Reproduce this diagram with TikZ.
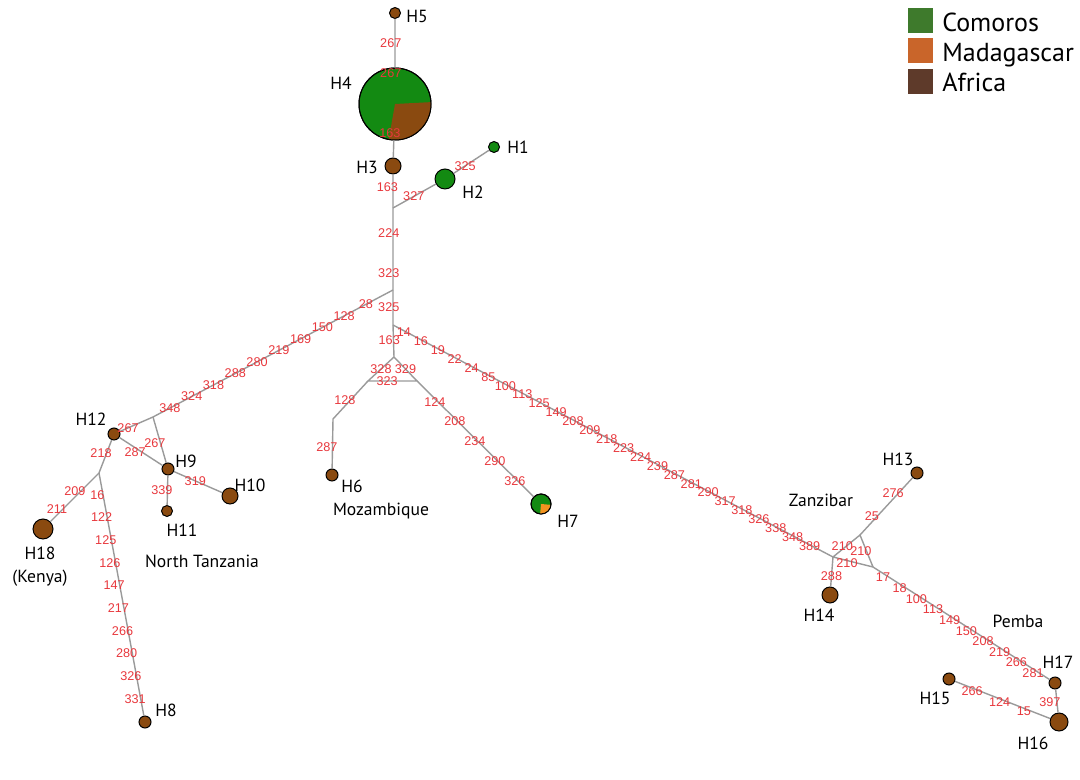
\documentclass[tikz,border=0pt]{standalone}
\usepackage{fontspec}
\setmainfont{PT Sans}
\newfontfamily\mutfont{Liberation Sans}
\usetikzlibrary{positioning}
\definecolor{comoros}{HTML}{3E7A2C}
\definecolor{madagascar}{HTML}{C9652A}
\definecolor{africa}{HTML}{5E3A2A}
\definecolor{hapgreen}{HTML}{138A12}
\definecolor{hapbrown}{HTML}{8A4A10}
\definecolor{haporange}{HTML}{F39320}
\definecolor{mutred}{HTML}{E8383D}
\definecolor{edgegray}{HTML}{9A9A9A}
\tikzset{
  edge/.style={draw=edgegray, line width=1pt},
  hap/.style={circle, draw=black, line width=0.7pt, fill=hapbrown, inner sep=0pt, minimum size=#1*0.025cm},
  mut/.style={text=mutred, font=\mutfont\fontsize{9}{10}\selectfont, inner sep=0pt},
  hlab/.style={font=\fontsize{12.5}{16.5}\selectfont, inner sep=0pt},
  legbox/.style={minimum size=25*0.025cm, inner sep=0pt},
  legtext/.style={font=\fontsize{18.5}{20}\selectfont, anchor=base west, inner sep=0pt},
}
\begin{document}
\begin{tikzpicture}[x=0.025cm, y=-0.025cm]
\useasboundingbox (0,0) rectangle (1080,780);
% haplotypes
\node[hap=11] (H5) at (395,13) {};
\node[hap=72, fill=hapgreen] (H4) at (395,104) {};
\node[hap=16] (H3) at (393,166) {};
\node[hap=11, fill=hapgreen] (H1) at (494,147) {};
\node[hap=20, fill=hapgreen] (H2) at (445,179) {};
\node[hap=12] (H6) at (332,475) {};
\node[hap=20, fill=hapgreen] (H7) at (541,504) {};
\node[hap=12] (H12) at (114,434) {};
\node[hap=12] (H9) at (168,469) {};
\node[hap=16] (H10) at (230,496) {};
\node[hap=11] (H11) at (167,511) {};
\node[hap=20] (H18) at (43,529) {};
\node[hap=12] (H8) at (145,722) {};
\node[hap=12] (H13) at (917,473) {};
\node[hap=16] (H14) at (830,595) {};
\node[hap=12] (H15) at (949,679) {};
\node[hap=18] (H16) at (1059,722) {};
\node[hap=12] (H17) at (1055,683) {};
\fill[hapbrown] (H4.center) -- ++(3:0.9cm) arc[start angle=3, end angle=-100, radius=0.9cm] -- cycle;
\draw[line width=0.7pt] (H4.center) circle[radius=0.9cm];
\fill[haporange] (H7.center) -- ++(-5:0.25cm) arc[start angle=-5, end angle=-95, radius=0.25cm] -- cycle;
\draw[line width=0.7pt] (H7.center) circle[radius=0.25cm];
% median vectors
\coordinate (J1) at (393,208);
\coordinate (J2) at (393,290);
\coordinate (J3) at (393,325);
\coordinate (T1) at (394,357);
\coordinate (TL) at (368,381);
\coordinate (TR) at (417,381);
\coordinate (B6) at (333,419);
\coordinate (JL) at (153,417);
\coordinate (JK) at (99,473);
\coordinate (JZ) at (833,557);
\coordinate (ZT) at (860,535);
\coordinate (ZR) at (873,567);
% links
\draw[edge] (H5) -- (H4) -- (H3) -- (J1) -- (J2) -- (J3) -- (T1) -- (TL) -- (TR) -- (T1);
\draw[edge] (J1) -- (H2) -- (H1);
\draw[edge] (TL) -- (B6) -- (H6);
\draw[edge] (TR) -- (H7);
\draw[edge] (J2) -- (JL) -- (H12) -- (JK) -- (H18);
\draw[edge] (JL) -- (H9) -- (H10);
\draw[edge] (H12) -- (H9) -- (H11);
\draw[edge] (JK) -- (H8);
\draw[edge] (J3) -- (JZ) -- (ZT) -- (ZR) -- (JZ) -- (H14);
\draw[edge] (ZT) -- (H13);
\draw[edge] (ZR) -- (H17) -- (H16) -- (H15);
% mutations
\path (H5.center) -- (H4.center) node[mut, pos=.33, xshift=-3pt] {267} node[mut, pos=.66, xshift=-3pt] {267};
\path (H4.center) -- (H3.center) node[mut, pos=.47, xshift=-3pt] {163};
\path (H3.center) -- (J1) node[mut, pos=.5, xshift=-4pt] {163};
\path (J1) -- (H2.center) node[mut, pos=.4] {327};
\path (H2.center) -- (H1.center) node[mut, pos=.41] {325};
\path (J1) -- (J2) node[mut, pos=.3, xshift=-3pt] {224} node[mut, pos=.79, xshift=-3pt] {323};
\path (J2) -- (J3) node[mut, pos=.49, xshift=-3pt] {325};
\path (J3) -- (T1) node[mut, pos=.47, xshift=-3pt] {163};
\path (T1) -- (TL) node[mut, pos=.5] {328};
\path (T1) -- (TR) node[mut, pos=.5] {329};
\path (TL) -- (TR) node[mut, pos=.39] {323};
\path (TL) -- (B6) node[mut, pos=.5, xshift=-4pt] {128};
\path (B6) -- (H6.center) node[mut, pos=.5, xshift=-4pt] {287};
\foreach \m [count=\i] in {124,208,234,290,326} {
  \pgfmathsetmacro\p{0.145+(\i-1)*0.161}
  \path (TR) -- (H7.center) node[mut, pos=\p, yshift=-2pt] {\m};
}
\foreach \m [count=\i] in {28,128,150,169,219,280,288,318,324,348} {
  \pgfmathsetmacro\p{0.113+(\i-1)*0.0907}
  \path (J2) -- (JL) node[mut, pos=\p] {\m};
}
\path (JL) -- (H12.center) node[mut, pos=.64] {267};
\path (JL) -- (H9.center) node[mut, pos=.5, xshift=-4pt] {267};
\path (H12.center) -- (H9.center) node[mut, pos=.39, yshift=-3pt] {287};
\path (H9.center) -- (H10.center) node[mut, pos=.44] {319};
\path (H9.center) -- (H11.center) node[mut, pos=.5, xshift=-4pt] {339};
\path (H12.center) -- (JK) node[mut, pos=.49, xshift=-4pt] {218};
\path (JK) -- (H18.center) node[mut, pos=.43, yshift=4pt] {209} node[mut, pos=.75, yshift=4pt] {211};
\foreach \m [count=\i] in {16,122,125,126,147,217,266,280,326,331} {
  \pgfmathsetmacro\p{0.088+(\i-1)*0.091}
  \path (JK) -- (H8.center) node[mut, pos=\p, xshift=-4pt] {\m};
}
\foreach \m [count=\i] in {14,16,19,22,24,85,100,113,125,149,208,209,218,223,224,239,287,281,290,317,318,326,338,348,389} {
  \pgfmathsetmacro\p{0.025+(\i-1)*0.0384}
  \path (J3) -- (JZ) node[mut, pos=\p, yshift=-1pt] {\m};
}
\path (JZ) -- (H14.center) node[mut, pos=.5] {288};
\path (JZ) -- (ZT) node[mut, pos=.5, xshift=-3pt] {210};
\path (ZT) -- (ZR) node[mut, pos=.5, xshift=-4pt] {210};
\path (JZ) -- (ZR) node[mut, pos=.35, yshift=-2pt] {210};
\path (ZT) -- (H13.center) node[mut, pos=.21, yshift=4pt] {25} node[mut, pos=.58, yshift=4pt] {276};
\foreach \m [count=\i] in {17,18,100,113,149,150,208,219,266,281} {
  \pgfmathsetmacro\p{0.055+(\i-1)*0.0916}
  \path (ZR) -- (H17.center) node[mut, pos=\p, yshift=-3pt] {\m};
}
\path (H17.center) -- (H16.center) node[mut, pos=.5, xshift=-5pt] {397};
\path (H16.center) -- (H15.center) node[mut, pos=.32, yshift=-2pt] {15} node[mut, pos=.54, yshift=-2pt] {124} node[mut, pos=.79, yshift=-2pt] {266};
% names
\node[hlab] (lH5) at (417,16) {H5};
\node[hlab] (lH4) at (341,83) {H4};
\node[hlab] (lH3) at (367,167) {H3};
\node[hlab] (lH1) at (518,147) {H1};
\node[hlab] (lH2) at (473,192) {H2};
\node[hlab] (lH6) at (352,486) {H6};
\node[hlab] (lH7) at (568,521) {H7};
\node[hlab] (lH12) at (91,419) {H12};
\node[hlab] (lH9) at (186,461) {H9};
\node[hlab] (lH10) at (250,485) {H10};
\node[hlab] (lH11) at (182,530) {H11};
\node[hlab, align=center] (lH18) at (40,567) {H18\\(Kenya)};
\node[hlab] (lH8) at (166,710) {H8};
\node[hlab] (lH13) at (898,459) {H13};
\node[hlab] (lH14) at (819,615) {H14};
\node[hlab] (lH15) at (935,698) {H15};
\node[hlab] (lH16) at (1033,743) {H16};
\node[hlab] (lH17) at (1058,662) {H17};
\node[hlab] (ntz) at (202,561) {North Tanzania};
\node[hlab] (moz) at (381,511) {Mozambique};
\node[hlab] (zan) at (821,500) {Zanzibar};
\node[hlab] (pem) at (1018,621) {Pemba};
% legend
\node[legbox, fill=comoros] (kC) at (920,21) {};
\node[legbox, fill=madagascar] (kM) at (920,51) {};
\node[legbox, fill=africa] (kA) at (920,82) {};
\node[legtext] at (942,32) {Comoros};
\node[legtext] at (942,62) {Madagascar};
\node[legtext] at (942,92) {Africa};
\end{tikzpicture}
\end{document}
